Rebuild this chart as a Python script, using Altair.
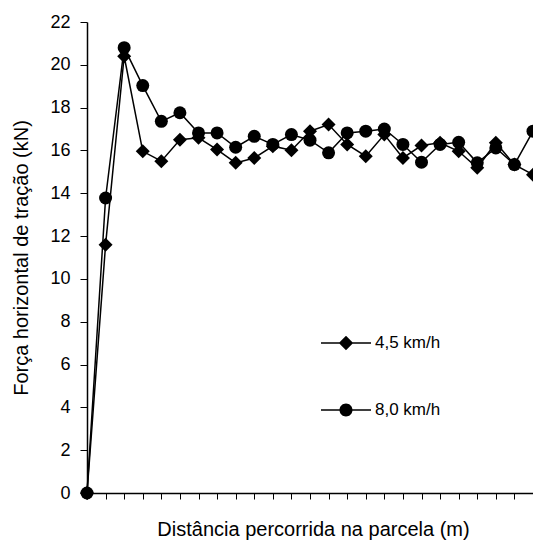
import altair as alt
import pandas as pd

# ---- data ----
dist = list(range(25))
series_names = ["4,5 km/h", "8,0 km/h"]
v45 = [0, 11.6, 20.4, 15.96, 15.5, 16.5, 16.59, 16.04, 15.42, 15.65, 16.2, 16.01,
       16.9, 17.21, 16.28, 15.73, 16.74, 15.65, 16.23, 16.36, 15.96, 15.19, 16.36,
       15.34, 14.87]
v80 = [0, 13.78, 20.8, 19.03, 17.36, 17.76, 16.82, 16.82, 16.15, 16.66, 16.28, 16.74,
       16.48, 15.89, 16.82, 16.9, 17.0, 16.28, 15.45, 16.28, 16.38, 15.42, 16.12,
       15.34, 16.9]
y_ticks = list(range(0, 23, 2))

rows = []
for i, d in enumerate(dist):
    rows.append({"x": d, "y": v45[i], "s": series_names[0]})
    rows.append({"x": d, "y": v80[i], "s": series_names[1]})
df = pd.DataFrame(rows)

FONT = "Liberation Sans"
# legend symbols: a thin filled bar (the line) plus the marker, all filled
LEG_D = "M-2.5,-0.075H2.5V0.075H-2.5ZM0,-0.72L0.72,0L0,0.72L-0.72,0Z"
LEG_C = ("M-2.5,-0.075H2.5V0.075H-2.5Z"
         "M0.65,0A0.65,0.65,0,1,1,-0.65,0A0.65,0.65,0,1,1,0.65,0Z")

x_enc = alt.X("x:Q", scale=alt.Scale(domain=[0, 24], nice=False, zero=False),
              axis=alt.Axis(values=dist, labels=False, grid=False,
                            title="Distância percorrida na parcela (m)",
                            tickSize=6, tickColor="black", tickWidth=1,
                            domainColor="black", domainWidth=1.5,
                            titleFont=FONT, titleFontSize=20, titleFontWeight="normal",
                            titleColor="black", titlePadding=20,
                            titleX=226, titleAlign="center"))
y_enc = alt.Y("y:Q", scale=alt.Scale(domain=[0, 22], nice=False),
              axis=alt.Axis(values=y_ticks, grid=False, format="d",
                            title="Força horizontal de tração (kN)",
                            tickSize=7, tickColor="black", tickWidth=1,
                            domainColor="black", domainWidth=1.5,
                            labelFont=FONT, labelFontSize=18, labelColor="black",
                            labelPadding=10,
                            titleFont=FONT, titleFontSize=20, titleFontWeight="normal",
                            titleColor="black", titlePadding=18))

base = alt.Chart(df)

def series_layers(name, shape, size):
    sub = base.transform_filter(alt.datum.s == name)
    line = sub.mark_line(color="black", strokeWidth=1.5).encode(x=x_enc, y=y_enc)
    pts = sub.mark_point(shape=shape, filled=True, color="black", opacity=1,
                         size=size).encode(x=x_enc, y=y_enc)
    return [line, pts]

legend_layer = base.transform_filter("false").mark_point(
    filled=True, color="black", opacity=1).encode(
    x=x_enc, y=y_enc,
    shape=alt.Shape("s:N",
                    scale=alt.Scale(domain=series_names, range=[LEG_D, LEG_C]),
                    legend=alt.Legend(title=None, orient="none", legendX=248, legendY=310,
                                      padding=0, rowPadding=45, labelOffset=18,
                                      symbolSize=400, labelFont=FONT, labelFontSize=17,
                                      labelColor="black",
                                      symbolFillColor="black", symbolOpacity=1)))

layers = series_layers(series_names[0], "diamond", 196) + \
         series_layers(series_names[1], "circle", 169) + [legend_layer]

chart = alt.layer(*layers).properties(
    width=446, height=471,
    padding={"left": 79, "top": 14, "right": 0, "bottom": 48},
    autosize=alt.AutoSizeParams(type="none"),
    background="white",
).configure_view(stroke=None)

chart.save("out.html", embed_options={"renderer": "svg", "actions": False})
